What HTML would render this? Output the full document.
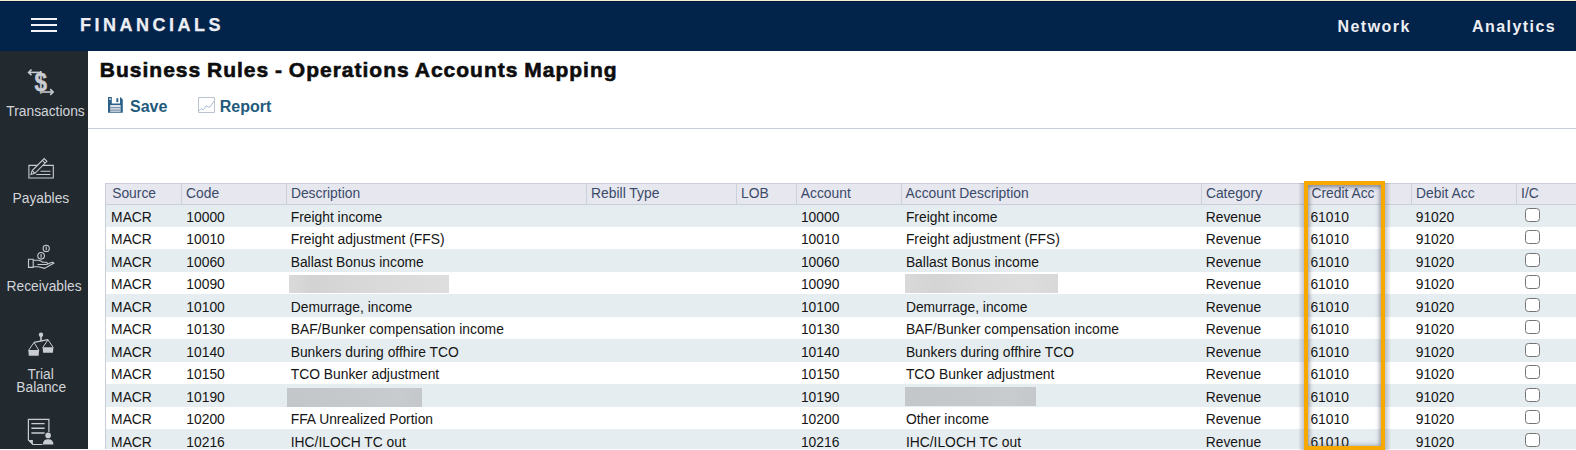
<!DOCTYPE html>
<html><head><meta charset="utf-8">
<style>
*{margin:0;padding:0;box-sizing:border-box}
html,body{width:1576px;height:450px;overflow:hidden;background:#fff;font-family:"Liberation Sans",sans-serif}
div,svg{position:absolute}
.nav{color:#eceef4;font-weight:bold;font-size:16px;white-space:nowrap;line-height:16px}
.sl{color:#d2d5da;font-size:13.8px;white-space:nowrap;line-height:14px}
.btn{color:#225a7b;font-weight:bold;font-size:16px;white-space:nowrap;line-height:16px}
.t{font-size:13.85px;line-height:14px;white-space:nowrap;color:#141414}
.h{font-size:13.85px;line-height:14px;white-space:nowrap;color:#3a4a69}
</style></head><body>

<div style="left:0;top:0;width:1576px;height:1px;background:#f3eecb"></div>
<div style="left:0;top:1px;width:1576px;height:1px;background:#001840"></div>
<div style="left:0;top:2px;width:1576px;height:49px;background:#03244a"></div>
<div style="left:31px;top:18px;width:26px;height:2px;background:#f2f3f7"></div>
<div style="left:31px;top:24px;width:26px;height:2px;background:#f2f3f7"></div>
<div style="left:31px;top:30px;width:26px;height:2px;background:#f2f3f7"></div>
<div class="nav" style="left:80px;top:16px;font-size:18px;line-height:18px;letter-spacing:3.5px;-webkit-text-stroke:0.25px #eceef4">FINANCIALS</div>
<div class="nav" style="left:1337.5px;top:19px;letter-spacing:1.45px">Network</div>
<div class="nav" style="left:1472px;top:19px;letter-spacing:1.45px">Analytics</div>
<div style="left:0;top:51px;width:88px;height:398px;background:#22292f"></div>
<div class="sl" style="left:6.3px;top:104.8px">Transactions</div>
<div class="sl" style="left:12.5px;top:191.8px">Payables</div>
<div class="sl" style="left:6.5px;top:279.5px">Receivables</div>
<div class="sl" style="left:27.5px;top:367.5px;">Trial</div>
<div class="sl" style="left:16.3px;top:380.8px;">Balance</div>
<svg style="left:0;top:51px" width="88" height="397" viewBox="0 51 88 397">
<g fill="none" stroke="#c9ccd3" stroke-width="1.6">
<path d="M29 72.4H40"/><path d="M31.5 69.5L28.6 72.4L31.5 75.3"/>
<path d="M42 92H53"/><path d="M50.2 89.1L53.1 92L50.2 94.9"/>
</g>
<g transform="translate(0,91) scale(1,1.14)"><text x="40.7" y="0" fill="#c9ccd3" stroke="#c9ccd3" stroke-width="0.45" font-family="Liberation Sans" font-weight="bold" font-size="22.5" text-anchor="middle">$</text></g><path d="M40.7 71V75" stroke="#c9ccd3" stroke-width="1.6"/>
<g fill="none" stroke="#c9ccd3" stroke-width="1.1">
<path d="M28.9 165.4H53.3V178H28.9Z"/>
<path d="M40.5 171.2H50.4M36.3 174.5H50.4"/>
<path d="M31 174.5L32.2 170.6L44.2 158.6L46.9 161.3L34.9 173.3Z" fill="#22292f"/>
<path d="M42.4 160.4L45.1 163.1M32.2 170.6L34.9 173.3"/>
</g>
<g fill="none" stroke="#c9ccd3" stroke-width="1.1">
<circle cx="46.2" cy="248.4" r="3.1"/><path d="M46.2 246.6V250.2"/>
<circle cx="41.1" cy="255.8" r="3.3"/><path d="M41.1 253.9V257.7"/>
<path d="M28.5 259.3H33.2V267.4H28.5Z"/>
<path d="M33.2 260.2H38Q40.5 260.2 42.5 262.2H46Q47.4 262.2 47.4 263.4Q47.4 264.5 46 264.5H37.5"/>
<path d="M33.2 266.8H38.5L44.5 268.4L53.9 263Q53 261.8 51.3 262.5L47.2 264.2"/>
</g>
<g fill="#c9ccd3" stroke="#c9ccd3">
<circle cx="41" cy="334.7" r="2.2" stroke="none"/>
<path d="M40.2 336H41.8V341.3H40.2Z" stroke="none"/>
<path d="M34 342.4L48 339.7" stroke-width="1.2" fill="none"/>
<path d="M34 342.4L28.6 350.3M34 342.4L38.8 350.3M48 339.7L42.8 347.5M48 339.7L53.2 347.5" stroke-width="1" fill="none"/>
<path d="M28.3 350H39.1L38.6 355.7H28.8Z" stroke="none"/>
<path d="M42.6 347.2H53.4L52.9 352.8H43.1Z" stroke="none"/>
</g>
<g fill="none" stroke="#c9ccd3" stroke-width="1.2">
<path d="M48.9 432V419.4H28.4V440L32.9 444.5H42.5"/>
<path d="M31.4 423.6H44.6M31.4 428.2H44.6M31.4 433H44.6" stroke-width="1.4"/>
</g>
<path d="M28.4 440L32.9 444.5V440Z" fill="#c9ccd3"/>
<circle cx="48.1" cy="435.4" r="2.8" fill="#c9ccd3"/>
<path d="M42.8 444.6Q43 439.3 48.1 439.3Q53.2 439.3 53.5 444.6Z" fill="#c9ccd3"/>
</svg>
<div style="left:99.8px;top:59px;font-size:21px;font-weight:bold;color:#0d0d0d;white-space:nowrap;line-height:22px;word-spacing:-1px;letter-spacing:1.0px;-webkit-text-stroke:0.6px #0d0d0d">Business Rules - Operations Accounts Mapping</div>
<div class="btn" style="left:130px;top:99px">Save</div>
<div class="btn" style="left:219.7px;top:99px">Report</div>
<svg style="left:104px;top:94px" width="22" height="22" viewBox="104 94 22 22">
<path d="M108 97H120.2L122.8 99.6V112.8H108Z" fill="#2c6189"/>
<path d="M111.8 97H120V103.5H111.8Z" fill="#fff"/>
<path d="M116.4 98.2H118.3V102.2H116.4Z" fill="#2c6189"/>
<path d="M109.2 98.2H110.8V100H109.2Z" fill="#d8e0ea"/>
<path d="M110.2 105H120.6V111.8H110.2Z" fill="#dfe3ea"/>
<path d="M110.2 107H120.6V108.2H110.2ZM110.2 109.6H120.6V110.8H110.2Z" fill="#7d94ac"/>
</svg>
<svg style="left:195px;top:94px" width="22" height="22" viewBox="195 94 22 22">
<path d="M198.5 97.5H214.5V112.5H198.5Z" fill="none" stroke="#bcc3cf" stroke-width="1"/>
<path d="M198.8 111L201.2 108.6L203.2 109.8L206.2 105.8L208.5 107.2L210.2 106.8L214.2 100.8" fill="none" stroke="#a9bcd6" stroke-width="1"/>
</svg>
<div style="left:88px;top:128px;width:1488px;height:1px;background:#c8ced8"></div>
<div style="left:105px;top:183.4px;width:1471px;height:21.2px;background:#e7e7ef;border-top:1px solid #c9ced8;border-bottom:1px solid #c9ced8"></div>
<div style="left:104.5px;top:183.4px;width:1px;height:265.6px;background:#c9ced8"></div>
<div style="left:181.0px;top:184.1px;width:1px;height:20px;background:#ccd0da"></div>
<div style="left:285.8px;top:184.1px;width:1px;height:20px;background:#ccd0da"></div>
<div style="left:585.8px;top:184.1px;width:1px;height:20px;background:#ccd0da"></div>
<div style="left:735.8px;top:184.1px;width:1px;height:20px;background:#ccd0da"></div>
<div style="left:795.9px;top:184.1px;width:1px;height:20px;background:#ccd0da"></div>
<div style="left:901.0px;top:184.1px;width:1px;height:20px;background:#ccd0da"></div>
<div style="left:1200.9px;top:184.1px;width:1px;height:20px;background:#ccd0da"></div>
<div style="left:1305.0px;top:184.1px;width:1px;height:20px;background:#ccd0da"></div>
<div style="left:1410.8px;top:184.1px;width:1px;height:20px;background:#ccd0da"></div>
<div style="left:1516.0px;top:184.1px;width:1px;height:20px;background:#ccd0da"></div>
<div style="left:1639.5px;top:184.1px;width:1px;height:20px;background:#ccd0da"></div>
<div class="h" style="left:112.19999999999999px;top:186.0px">Source</div>
<div class="h" style="left:186.0px;top:186.0px">Code</div>
<div class="h" style="left:290.90000000000003px;top:186.0px">Description</div>
<div class="h" style="left:591.1px;top:186.0px">Rebill Type</div>
<div class="h" style="left:741.1px;top:186.0px">LOB</div>
<div class="h" style="left:800.8000000000001px;top:186.0px">Account</div>
<div class="h" style="left:905.5px;top:186.0px">Account Description</div>
<div class="h" style="left:1205.8999999999999px;top:186.0px">Category</div>
<div class="h" style="left:1311.3999999999999px;top:186.0px">Credit Acc</div>
<div class="h" style="left:1416.1px;top:186.0px">Debit Acc</div>
<div class="h" style="left:1521.1px;top:186.0px">I/C</div>
<div style="left:105.5px;top:204.50px;width:1471px;height:22.49px;background:#e6edf0"></div>
<div class="t" style="left:111.10000000000001px;top:210.00px">MACR</div>
<div class="t" style="left:186.3px;top:210.00px">10000</div>
<div class="t" style="left:290.7px;top:210.00px">Freight income</div>
<div class="t" style="left:800.9px;top:210.00px">10000</div>
<div class="t" style="left:905.9px;top:210.00px">Freight income</div>
<div class="t" style="left:1205.7px;top:210.00px">Revenue</div>
<div class="t" style="left:1310.4px;top:210.00px">61010</div>
<div class="t" style="left:1415.7px;top:210.00px">91020</div>
<div style="left:1525px;top:207.70px;width:14.5px;height:14px;border:1.4px solid #747474;border-radius:3.5px;background:#fff"></div>
<div class="t" style="left:111.10000000000001px;top:232.49px">MACR</div>
<div class="t" style="left:186.3px;top:232.49px">10010</div>
<div class="t" style="left:290.7px;top:232.49px">Freight adjustment (FFS)</div>
<div class="t" style="left:800.9px;top:232.49px">10010</div>
<div class="t" style="left:905.9px;top:232.49px">Freight adjustment (FFS)</div>
<div class="t" style="left:1205.7px;top:232.49px">Revenue</div>
<div class="t" style="left:1310.4px;top:232.49px">61010</div>
<div class="t" style="left:1415.7px;top:232.49px">91020</div>
<div style="left:1525px;top:230.19px;width:14.5px;height:14px;border:1.4px solid #747474;border-radius:3.5px;background:#fff"></div>
<div style="left:105.5px;top:249.48px;width:1471px;height:22.49px;background:#e6edf0"></div>
<div class="t" style="left:111.10000000000001px;top:254.98px">MACR</div>
<div class="t" style="left:186.3px;top:254.98px">10060</div>
<div class="t" style="left:290.7px;top:254.98px">Ballast Bonus income</div>
<div class="t" style="left:800.9px;top:254.98px">10060</div>
<div class="t" style="left:905.9px;top:254.98px">Ballast Bonus income</div>
<div class="t" style="left:1205.7px;top:254.98px">Revenue</div>
<div class="t" style="left:1310.4px;top:254.98px">61010</div>
<div class="t" style="left:1415.7px;top:254.98px">91020</div>
<div style="left:1525px;top:252.68px;width:14.5px;height:14px;border:1.4px solid #747474;border-radius:3.5px;background:#fff"></div>
<div class="t" style="left:111.10000000000001px;top:277.47px">MACR</div>
<div class="t" style="left:186.3px;top:277.47px">10090</div>
<div class="t" style="left:800.9px;top:277.47px">10090</div>
<div class="t" style="left:1205.7px;top:277.47px">Revenue</div>
<div class="t" style="left:1310.4px;top:277.47px">61010</div>
<div class="t" style="left:1415.7px;top:277.47px">91020</div>
<div style="left:1525px;top:275.17px;width:14.5px;height:14px;border:1.4px solid #747474;border-radius:3.5px;background:#fff"></div>
<div style="left:105.5px;top:294.46px;width:1471px;height:22.49px;background:#e6edf0"></div>
<div class="t" style="left:111.10000000000001px;top:299.96px">MACR</div>
<div class="t" style="left:186.3px;top:299.96px">10100</div>
<div class="t" style="left:290.7px;top:299.96px">Demurrage, income</div>
<div class="t" style="left:800.9px;top:299.96px">10100</div>
<div class="t" style="left:905.9px;top:299.96px">Demurrage, income</div>
<div class="t" style="left:1205.7px;top:299.96px">Revenue</div>
<div class="t" style="left:1310.4px;top:299.96px">61010</div>
<div class="t" style="left:1415.7px;top:299.96px">91020</div>
<div style="left:1525px;top:297.66px;width:14.5px;height:14px;border:1.4px solid #747474;border-radius:3.5px;background:#fff"></div>
<div class="t" style="left:111.10000000000001px;top:322.45px">MACR</div>
<div class="t" style="left:186.3px;top:322.45px">10130</div>
<div class="t" style="left:290.7px;top:322.45px">BAF/Bunker compensation income</div>
<div class="t" style="left:800.9px;top:322.45px">10130</div>
<div class="t" style="left:905.9px;top:322.45px">BAF/Bunker compensation income</div>
<div class="t" style="left:1205.7px;top:322.45px">Revenue</div>
<div class="t" style="left:1310.4px;top:322.45px">61010</div>
<div class="t" style="left:1415.7px;top:322.45px">91020</div>
<div style="left:1525px;top:320.15px;width:14.5px;height:14px;border:1.4px solid #747474;border-radius:3.5px;background:#fff"></div>
<div style="left:105.5px;top:339.44px;width:1471px;height:22.49px;background:#e6edf0"></div>
<div class="t" style="left:111.10000000000001px;top:344.94px">MACR</div>
<div class="t" style="left:186.3px;top:344.94px">10140</div>
<div class="t" style="left:290.7px;top:344.94px">Bunkers during offhire TCO</div>
<div class="t" style="left:800.9px;top:344.94px">10140</div>
<div class="t" style="left:905.9px;top:344.94px">Bunkers during offhire TCO</div>
<div class="t" style="left:1205.7px;top:344.94px">Revenue</div>
<div class="t" style="left:1310.4px;top:344.94px">61010</div>
<div class="t" style="left:1415.7px;top:344.94px">91020</div>
<div style="left:1525px;top:342.64px;width:14.5px;height:14px;border:1.4px solid #747474;border-radius:3.5px;background:#fff"></div>
<div class="t" style="left:111.10000000000001px;top:367.43px">MACR</div>
<div class="t" style="left:186.3px;top:367.43px">10150</div>
<div class="t" style="left:290.7px;top:367.43px">TCO Bunker adjustment</div>
<div class="t" style="left:800.9px;top:367.43px">10150</div>
<div class="t" style="left:905.9px;top:367.43px">TCO Bunker adjustment</div>
<div class="t" style="left:1205.7px;top:367.43px">Revenue</div>
<div class="t" style="left:1310.4px;top:367.43px">61010</div>
<div class="t" style="left:1415.7px;top:367.43px">91020</div>
<div style="left:1525px;top:365.13px;width:14.5px;height:14px;border:1.4px solid #747474;border-radius:3.5px;background:#fff"></div>
<div style="left:105.5px;top:384.42px;width:1471px;height:22.49px;background:#e6edf0"></div>
<div class="t" style="left:111.10000000000001px;top:389.92px">MACR</div>
<div class="t" style="left:186.3px;top:389.92px">10190</div>
<div class="t" style="left:800.9px;top:389.92px">10190</div>
<div class="t" style="left:1205.7px;top:389.92px">Revenue</div>
<div class="t" style="left:1310.4px;top:389.92px">61010</div>
<div class="t" style="left:1415.7px;top:389.92px">91020</div>
<div style="left:1525px;top:387.62px;width:14.5px;height:14px;border:1.4px solid #747474;border-radius:3.5px;background:#fff"></div>
<div class="t" style="left:111.10000000000001px;top:412.41px">MACR</div>
<div class="t" style="left:186.3px;top:412.41px">10200</div>
<div class="t" style="left:290.7px;top:412.41px">FFA Unrealized Portion</div>
<div class="t" style="left:800.9px;top:412.41px">10200</div>
<div class="t" style="left:905.9px;top:412.41px">Other income</div>
<div class="t" style="left:1205.7px;top:412.41px">Revenue</div>
<div class="t" style="left:1310.4px;top:412.41px">61010</div>
<div class="t" style="left:1415.7px;top:412.41px">91020</div>
<div style="left:1525px;top:410.11px;width:14.5px;height:14px;border:1.4px solid #747474;border-radius:3.5px;background:#fff"></div>
<div style="left:105.5px;top:429.40px;width:1471px;height:19.60px;background:#e6edf0"></div>
<div class="t" style="left:111.10000000000001px;top:434.90px">MACR</div>
<div class="t" style="left:186.3px;top:434.90px">10216</div>
<div class="t" style="left:290.7px;top:434.90px">IHC/ILOCH TC out</div>
<div class="t" style="left:800.9px;top:434.90px">10216</div>
<div class="t" style="left:905.9px;top:434.90px">IHC/ILOCH TC out</div>
<div class="t" style="left:1205.7px;top:434.90px">Revenue</div>
<div class="t" style="left:1310.4px;top:434.90px">61010</div>
<div class="t" style="left:1415.7px;top:434.90px">91020</div>
<div style="left:1525px;top:432.60px;width:14.5px;height:14px;border:1.4px solid #747474;border-radius:3.5px;background:#fff"></div>
<div style="left:289px;top:275px;width:160px;height:18px;background:linear-gradient(90deg,#dadada,#d3d3d3 15%,#d9d9d9 50%,#dcdcdc 80%,#dedede)"></div>
<div style="left:905px;top:274px;width:153px;height:19px;background:linear-gradient(90deg,#d9d9d9,#d4d4d4 20%,#dadada 50%,#dddddd 80%,#d8d8d8)"></div>
<div style="left:287px;top:388px;width:135px;height:19px;background:linear-gradient(90deg,#c3c7ca,#c5c9cc 50%,#c8cccf 80%,#c4c8cb)"></div>
<div style="left:905px;top:387px;width:131px;height:19px;background:linear-gradient(90deg,#c3c7ca,#c5c9cc 50%,#c8cccf 80%,#c4c8cb)"></div>
<div style="left:0;top:449px;width:1576px;height:1px;background:#fff"></div>
<div style="left:1298px;top:183px;width:6px;height:267px;background:linear-gradient(90deg,rgba(50,55,75,0),rgba(50,55,75,0.26))"></div>
<div style="left:1385px;top:183px;width:6px;height:267px;background:linear-gradient(270deg,rgba(50,55,75,0),rgba(50,55,75,0.26))"></div>
<div style="left:1304px;top:181px;width:81px;height:269px;border:4px solid #f8a900;box-shadow:inset 0 2px 4px rgba(50,55,75,0.4), inset 0 0 5px 1px rgba(50,55,75,0.32)"></div>
</body></html>
